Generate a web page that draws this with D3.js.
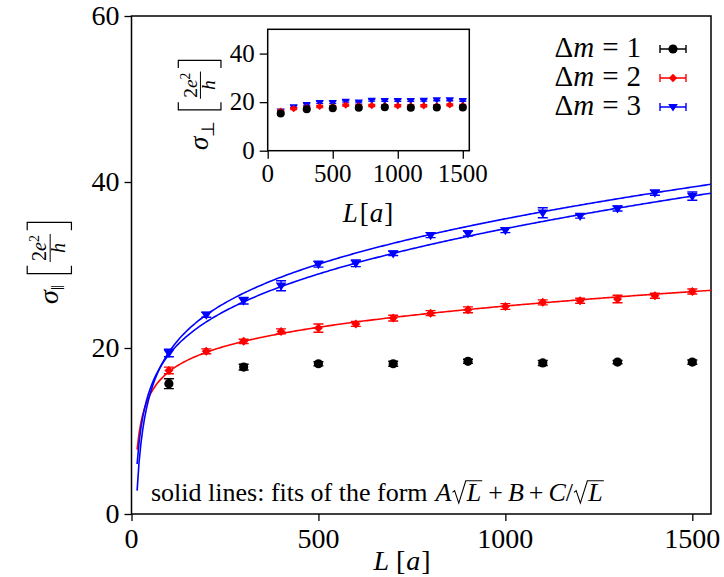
<!DOCTYPE html>
<html>
<head>
<meta charset="utf-8">
<script src="https://cdn.jsdelivr.net/npm/d3@7"></script>
</head>
<body style="margin:0">
<script>
// system sizes L (in units of a)
const L_odd = [100, 300, 500, 700, 900, 1100, 1300, 1500];
const L_all = [100, 200, 300, 400, 500, 600, 700, 800, 900, 1000, 1100, 1200, 1300, 1400, 1500];

// main panel: sigma parallel
const par_dm1 = [15.7, 17.7, 18.1, 18.1, 18.4, 18.2, 18.3, 18.3];
const par_dm1_err = [0.6, 0.35, 0.25, 0.3, 0.25, 0.3, 0.2, 0.25];
const par_dm2 = [17.3, 19.6, 20.8, 22.0, 22.4, 22.9, 23.6, 24.2, 24.6, 25.0, 25.5, 25.7, 25.9, 26.3, 26.8];
const par_dm2_err = [0.4, 0.3, 0.25, 0.3, 0.5, 0.3, 0.35, 0.3, 0.35, 0.35, 0.3, 0.3, 0.45, 0.3, 0.3];
const par_dm3 = [19.4, 24.0, 25.7, 27.5, 30.1, 30.2, 31.4, 33.6, 33.8, 34.2, 36.3, 35.9, 36.8, 38.7, 38.3];
const par_dm3_err = [0.45, 0.3, 0.4, 0.6, 0.35, 0.4, 0.25, 0.3, 0.3, 0.3, 0.6, 0.25, 0.3, 0.3, 0.5];

// inset: sigma perpendicular
const perp_dm1 = [15.3, 17.1, 17.5, 17.7, 17.9, 17.7, 17.8, 17.8];
const perp_dm2 = [16.3, 17.3, 17.8, 18.2, 18.2, 18.8, 18.5, 18.6, 18.5, 18.5, 18.5, 18.5, 18.5, 18.9, 18.6];
const perp_dm3 = [16.4, 18.1, 19.0, 19.9, 19.9, 20.4, 20.1, 20.8, 20.7, 20.7, 20.7, 20.8, 21.0, 21.0, 20.7];
const perp_err = 0.4;

// fit parameters [A, B, C] of A*sqrt(L) + B + C/sqrt(L)
const fit_dm2 = [0.2036, 20.24, -51.4];
const fit_dm3_a = [0.4668, 23.57, -87.4];
const fit_dm3_b = [0.5000, 20.59, -63.9];

const xTicks = [0, 500, 1000, 1500];
const yTicks = [0, 20, 40, 60];
const insetYTicks = [0, 20, 40];

const COLORS = { dm1: '#000000', dm2: '#ff0000', dm3: '#0000ff' };

const FONT = "'Liberation Serif'";


const W = 724, H = 577;

const svg = d3.select('body').append('svg')
    .attr('width', W)
    .attr('height', H);

const x = d3.scaleLinear().domain([0, 1550]).range([131.5, 711]);
const y = d3.scaleLinear().domain([0, 60]).range([514, 16]);

const xi = d3.scaleLinear().domain([0, 1550]).range([267.7, 469.3]);
const yi = d3.scaleLinear().domain([0, 50]).range([150.7, 29.3]);


// all text goes straight onto the svg root, positioned absolutely
function txt( size, tf ) {
    var t = svg.append('text')
        .style('font-family', FONT)
        .attr('font-size', size);
    if ( tf ) { t.attr('transform', tf); }
    return t;
}

function marker( g, shape, color, size ) {
    if ( shape === 'circle' ) {
        g.append('circle').attr('r', size).attr('fill', color);
    } else if ( shape === 'diamond' ) {
        g.append('path')
         .attr('d', 'M0,' + (-size) + 'L' + size + ',0L0,' + size + 'L' + (-size) + ',0Z')
         .attr('fill', color);
    } else {
        var s = size * 1.15;
        g.append('path')
         .attr('d', 'M' + (-s) + ',' + (-s * 0.6) + 'L' + s + ',' + (-s * 0.6) + 'L0,' + (s * 0.95) + 'Z')
         .attr('fill', color);
    }
}

function drawSeries( root, sx, sy, xs, vals, errs, shape, color, size, cap ) {
    var pts = root.append('g');
    vals.forEach( function( v, i ) {
        var e = Array.isArray( errs ) ? errs[i] : errs;
        var g = pts.append('g').attr('transform', 'translate(' + sx( xs[i] ) + ',' + sy( v ) + ')');
        var top = sy( v + e ) - sy( v ), bot = sy( v - e ) - sy( v );
        g.append('path')
         .attr('d', 'M0,' + top + 'V' + bot + 'M' + (-cap) + ',' + top + 'H' + cap + 'M' + (-cap) + ',' + bot + 'H' + cap)
         .attr('stroke', color)
         .attr('stroke-width', 1.4)
         .attr('fill', 'none');
        marker( g, shape, color, size );
    });
}

function drawFit( root, p, color ) {
    var Ls = d3.range( 15, 1551, 5 );
    var line = d3.line()
        .x( function( d ) { return x( d ); } )
        .y( function( d ) { return y( p[0] * Math.sqrt( d ) + p[1] + p[2] / Math.sqrt( d ) ); } );
    root.append('path')
        .datum( Ls )
        .attr('d', line)
        .attr('fill', 'none')
        .attr('stroke', color)
        .attr('stroke-width', 1.6);
}

// sequence of text pieces, laid out left to right; 'sqrt' pieces get a radical
function mathRow( pieces, x0, y0, size, anchor ) {
    var items = [];
    var cx = 0;
    pieces.forEach( function( p ) {
        cx += p.pre || 0;
        var t = txt( p.size || size ).attr('y', y0)
            .attr('font-style', p.it || p.sqrt ? 'italic' : 'normal')
            .text( p.t );
        var tw = t.node().getComputedTextLength();
        if ( p.sqrt ) {
            var rw = size * 0.55;
            items.push( { t: t, x: cx + rw + 1, rad: [ cx, rw, tw ] } );
            cx += rw + tw + 3;
        } else {
            items.push( { t: t, x: cx } );
            cx += tw + ( p.pad || 0 );
        }
    });
    var shift = x0 + ( anchor === 'end' ? -cx : anchor === 'middle' ? -cx / 2 : 0 );
    items.forEach( function( it ) {
        it.t.attr('x', shift + it.x);
        if ( it.rad ) {
            var c = shift + it.rad[0], rw = it.rad[1], tw = it.rad[2];
            svg.append('path')
             .attr('d', 'M' + (c + 1) + ',' + (y0 - size * 0.33) + 'L' + (c + size * 0.12) + ',' + (y0 - size * 0.4) +
                  'L' + (c + size * 0.28) + ',' + (y0 + size * 0.08) + 'L' + (c + rw) + ',' + (y0 - size * 0.78) +
                  'H' + (c + rw + tw + 2))
             .attr('fill', 'none').attr('stroke', '#000').attr('stroke-width', 1.1);
        }
    });
}

// rotated  sigma_sub [ 2e^2 / h ]  label
function unitLabel( cx, cy, sub, size ) {
    var tf = 'translate(' + cx + ',' + cy + ') rotate(-90)';
    var g = svg.append('g').attr('transform', tf);
    var fs = size * 0.72;
    var s = txt( size, tf ).attr('font-style', 'italic').attr('y', 0).text('σ');
    var sw = s.node().getComputedTextLength();
    var sb = txt( size * 0.68, tf ).attr('x', sw).attr('y', size * 0.22).text( sub );
    var x1 = sw + sb.node().getComputedTextLength() + size * 0.4;
    var num = txt( fs, tf ).attr('y', -size * 0.42);
    num.append('tspan').text('2');
    num.append('tspan').attr('font-style', 'italic').text('e');
    num.append('tspan').attr('font-size', fs * 0.7).attr('dy', -fs * 0.35).text('2');
    var nw = num.node().getComputedTextLength();
    var fx = x1 + size * 0.45;
    num.attr('x', fx);
    var barY = -size * 0.28;
    g.append('line').attr('x1', fx - 1).attr('x2', fx + nw + 1).attr('y1', barY).attr('y2', barY)
     .attr('stroke', '#000').attr('stroke-width', 1);
    txt( fs, tf ).attr('font-style', 'italic')
     .attr('x', fx + nw / 2).attr('y', size * 0.25).attr('text-anchor', 'middle').text('h');
    var x2 = fx + nw + size * 0.45;
    var t = -size * 1.1, b = size * 0.48, lip = size * 0.28;
    g.append('path')
     .attr('d', 'M' + (x1 + lip) + ',' + t + 'H' + x1 + 'V' + b + 'H' + (x1 + lip) +
          'M' + (x2 - lip) + ',' + t + 'H' + x2 + 'V' + b + 'H' + (x2 - lip))
     .attr('fill', 'none').attr('stroke', '#000').attr('stroke-width', 1.2);
}

// tick marks from d3's axes, tick labels placed from the same scales
function axes( root, sx, sy, xt, yt, fontSize, tickLen ) {
    var ax = root.append('g')
        .attr('transform', 'translate(0,' + sy.range()[0] + ')')
        .call( d3.axisBottom( sx ).tickValues( xt ).tickSize( tickLen ).tickSizeOuter( 0 ) );
    var ay = root.append('g')
        .attr('transform', 'translate(' + sx.range()[0] + ',0)')
        .call( d3.axisLeft( sy ).tickValues( yt ).tickSize( tickLen ).tickSizeOuter( 0 ) );
    [ ax, ay ].forEach( function( a ) {
        a.select('.domain').remove();
        a.selectAll('text').remove();
        a.selectAll('line').attr('stroke', '#000').attr('stroke-width', 1.3);
    });
    var fmt = d3.format('d');
    xt.forEach( function( v ) {
        txt( fontSize ).attr('x', sx( v )).attr('y', sy.range()[0] + tickLen + fontSize * 0.95)
            .attr('text-anchor', 'middle').text( fmt( v ) );
    });
    yt.forEach( function( v ) {
        txt( fontSize ).attr('x', sx.range()[0] - tickLen - 5).attr('y', sy( v ) + fontSize * 0.33)
            .attr('text-anchor', 'end').text( fmt( v ) );
    });
    root.append('rect')
        .attr('x', sx.range()[0]).attr('y', sy.range()[1])
        .attr('width', sx.range()[1] - sx.range()[0])
        .attr('height', sy.range()[0] - sy.range()[1])
        .attr('fill', 'none').attr('stroke', '#000').attr('stroke-width', 1.5);
}


// ---- main panel
var main = svg.append('g').attr('class', 'main');
axes( main, x, y, xTicks, yTicks, 28, 7 );

drawFit( main, fit_dm2, COLORS.dm2 );
drawFit( main, fit_dm3_a, COLORS.dm3 );
drawFit( main, fit_dm3_b, COLORS.dm3 );

drawSeries( main, x, y, L_odd, par_dm1, par_dm1_err, 'circle', COLORS.dm1, 4.6, 5 );
drawSeries( main, x, y, L_all, par_dm2, par_dm2_err, 'diamond', COLORS.dm2, 4.5, 5 );
drawSeries( main, x, y, L_all, par_dm3, par_dm3_err, 'triangle', COLORS.dm3, 4.6, 5 );

mathRow( [
    { t: 'L', it: true, pad: 7 }, { t: '[', pad: 1 }, { t: 'a', it: true, pad: 1 }, { t: ']' }
], 402, 570, 28, 'middle' );

unitLabel( 58, 304, '‖', 28 );

mathRow( [
    { t: 'solid lines: fits of the form', pad: 8 },
    { t: 'A', it: true }, { t: 'L', sqrt: true }, { t: '+', pre: 5, pad: 5 },
    { t: 'B', it: true }, { t: '+', pre: 5, pad: 5 }, { t: 'C', it: true }, { t: '/' },
    { t: 'L', sqrt: true }
], 151, 501, 26, 'start' );

// legend
var legendItems = [
    { n: '1', shape: 'circle', color: COLORS.dm1 },
    { n: '2', shape: 'diamond', color: COLORS.dm2 },
    { n: '3', shape: 'triangle', color: COLORS.dm3 }
];
legendItems.forEach( function( d, i ) {
    var ly = 57 + i * 29;
    mathRow( [
        { t: 'Δ' }, { t: 'm', it: true, pad: 8 }, { t: '=', pad: 8 }, { t: d.n }
    ], 641, ly, 29, 'end' );
    var g = main.append('g').attr('transform', 'translate(673,' + (ly - 8) + ')');
    g.append('path')
     .attr('d', 'M-13,0H13M-13,-4V4M13,-4V4')
     .attr('stroke', d.color).attr('stroke-width', 1.4).attr('fill', 'none');
    marker( g, d.shape, d.color, d.shape === 'circle' ? 4.6 : 4.2 );
});


// ---- inset
var inset = svg.append('g').attr('class', 'inset');
inset.append('rect')
    .attr('x', 267.7).attr('y', 29.3).attr('width', 201.6).attr('height', 121.4)
    .attr('fill', '#fff');
axes( inset, xi, yi, xTicks, insetYTicks, 25, 8 );

drawSeries( inset, xi, yi, L_all, perp_dm3, perp_err, 'triangle', COLORS.dm3, 3.6, 3.5 );
drawSeries( inset, xi, yi, L_all, perp_dm2, perp_err, 'diamond', COLORS.dm2, 3.6, 3.5 );
drawSeries( inset, xi, yi, L_odd, perp_dm1, perp_err, 'circle', COLORS.dm1, 4, 3.5 );

mathRow( [
    { t: 'L', it: true, pad: 2 }, { t: '[', pad: 1 }, { t: 'a', it: true, pad: 1 }, { t: ']' }
], 368, 222, 27, 'middle' );

unitLabel( 208, 150, '⊥', 27 );
</script>
</body>
</html>
